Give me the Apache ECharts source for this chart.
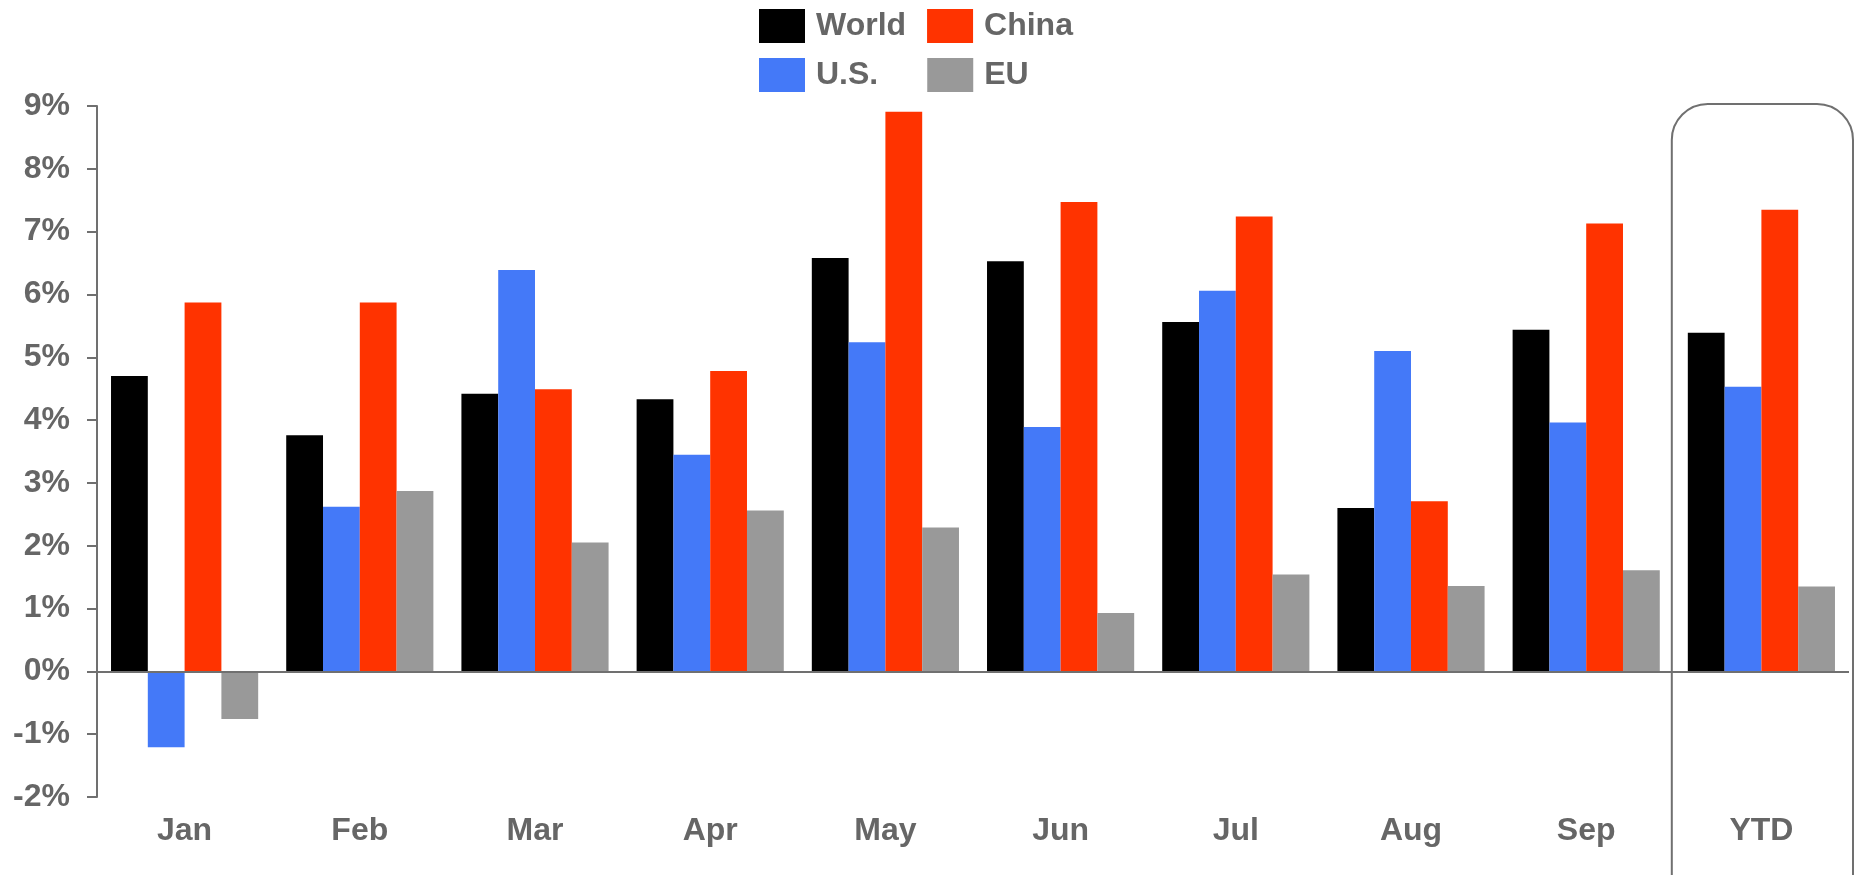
<!DOCTYPE html>
<html>
<head>
<meta charset="utf-8">
<script src="https://cdn.jsdelivr.net/npm/echarts@6/dist/echarts.min.js"></script>
<style>
  html, body { margin: 0; padding: 0; background: #fff; }
  #main { width: 1856px; height: 875px; }
</style>
</head>
<body>
<div id="main"></div>
<script>
// months plus year-to-date
var categories = ['Jan', 'Feb', 'Mar', 'Apr', 'May', 'Jun', 'Jul', 'Aug', 'Sep', 'YTD'];
var world = [4.7, 3.76, 4.42, 4.33, 6.58, 6.53, 5.56, 2.6, 5.44, 5.39];
var us    = [-1.21, 2.62, 6.39, 3.45, 5.24, 3.89, 6.06, 5.1, 3.96, 4.53];
var china = [5.87, 5.87, 4.49, 4.78, 8.91, 7.47, 7.24, 2.71, 7.13, 7.35];
var eu    = [-0.76, 2.87, 2.05, 2.56, 2.29, 0.93, 1.54, 1.36, 1.61, 1.35];
var yTicks = [-2, 9, 1]; // min, max, step

var FONT = "'Liberation Sans', Arial, sans-serif";
var GREY_TXT = '#666666';
var AXIS = '#707070';

var chart = echarts.init(document.getElementById('main'));

function bar(name, data, color) {
    return {
        name: name,
        type: 'bar',
        data: data,
        barGap: '0%',
        barCategoryGap: '16%',
        itemStyle: { color: color }
    };
}

var legendText = {
    color: GREY_TXT,
    fontFamily: FONT,
    fontWeight: 'bold',
    fontSize: 32,
    padding: [0, 0, 0, 6]
};

var series = [
    bar('World', world, '#000000'),
    bar('U.S.', us, '#4479f8'),
    bar('China', china, '#ff3300'),
    bar('EU', eu, '#999999')
];
// zero line across the plot
series[0].markLine = {
    silent: true,
    symbol: 'none',
    label: { show: false },
    lineStyle: { color: AXIS, width: 2, type: 'solid' },
    data: [{ yAxis: 0 }]
};

var option = {
    animation: false,
    backgroundColor: '#fff',
    legend: [{
        data: ['World', 'China'],
        left: 759, top: 9, padding: 0,
        itemWidth: 46, itemHeight: 34, itemGap: 21,
        icon: 'rect',
        textStyle: legendText
    }, {
        data: ['U.S.', 'EU'],
        left: 759, top: 58, padding: 0,
        itemWidth: 46, itemHeight: 34, itemGap: 49,
        icon: 'rect',
        textStyle: legendText
    }],
    grid: { left: 97, right: 7, top: 106, bottom: 78, containLabel: false },
    xAxis: {
        type: 'category',
        data: categories,
        axisLine: { show: false, onZero: false },
        axisTick: { show: false },
        axisLabel: {
            color: GREY_TXT, fontFamily: FONT, fontWeight: 'bold', fontSize: 32,
            margin: 18
        }
    },
    yAxis: {
        type: 'value',
        min: yTicks[0], max: yTicks[1], interval: yTicks[2],
        splitLine: { show: false },
        axisLine: { show: true, lineStyle: { color: AXIS, width: 2 } },
        axisTick: { show: true, length: 10, lineStyle: { color: AXIS, width: 2 } },
        axisLabel: {
            formatter: '{value}%',
            color: GREY_TXT, fontFamily: FONT, fontWeight: 'bold', fontSize: 32,
            margin: 27
        }
    },
    series: series
};

chart.setOption(option);

// rounded box around the YTD group
var xSep = chart.convertToPixel({ xAxisIndex: 0 }, 'Sep');
var xYtd = chart.convertToPixel({ xAxisIndex: 0 }, 'YTD');
var step = xYtd - xSep;
var boxLeft = xYtd - step / 2 - 2;
var boxRight = xYtd + step / 2 + 4;
var boxTop = chart.convertToPixel({ yAxisIndex: 0 }, yTicks[1]) - 2;
chart.setOption({
    graphic: [{
        type: 'rect',
        silent: true,
        shape: { x: boxLeft, y: boxTop, width: boxRight - boxLeft, height: 820, r: 36 },
        style: { fill: 'none', stroke: AXIS, lineWidth: 2 }
    }]
});

window.addEventListener('resize', function () {
    chart.resize();
});
</script>
</body>
</html>
